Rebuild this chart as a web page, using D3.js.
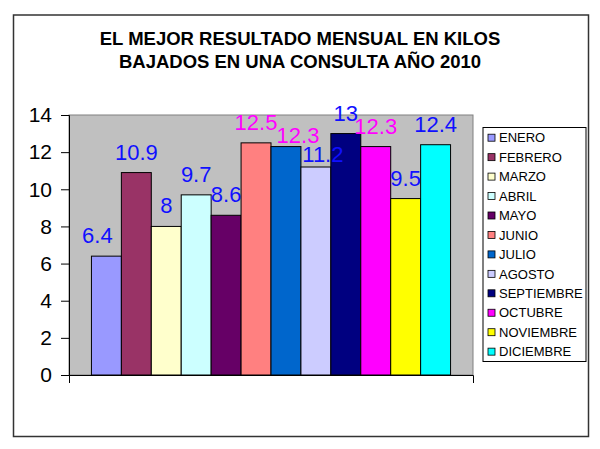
<!DOCTYPE html>
<html>
<head>
<meta charset="utf-8">
<script src="https://cdn.jsdelivr.net/npm/d3@7"></script>
<style>
  body { margin: 0; background: #fff; }
  svg text { font-family: Arial, "Liberation Sans", sans-serif; }
</style>
</head>
<body>
<svg id="chart" width="600" height="449"></svg>
<script>
// Monthly best results (kg lost), 2010
const months = ["ENERO", "FEBRERO", "MARZO", "ABRIL", "MAYO", "JUNIO",
    "JULIO", "AGOSTO", "SEPTIEMBRE", "OCTUBRE", "NOVIEMBRE", "DICIEMBRE"];
const kilos = [6.4, 10.9, 8, 9.7, 8.6, 12.5, 12.3, 11.2, 13, 12.3, 9.5, 12.4];
const barColors = ["#9999FF", "#993366", "#FFFFCC", "#CCFFFF", "#660066", "#FF8080",
    "#0066CC", "#CCCCFF", "#000080", "#FF00FF", "#FFFF00", "#00FFFF"];
const labelColors = ["#1010FF", "#1010FF", "#1010FF", "#1010FF", "#1010FF", "#FF00FF",
    "#FF00FF", "#1010FF", "#1010FF", "#FF00FF", "#1010FF", "#1010FF"];
const yTicks = [0, 2, 4, 6, 8, 10, 12, 14];
const titleLines = ["EL MEJOR RESULTADO MENSUAL EN KILOS", "BAJADOS EN UNA CONSULTA AÑO 2010"];

const svg = d3.select("#chart");

// Outer chart border
svg.append("rect")
    .attr("x", 13.5).attr("y", 15)
    .attr("width", 575).attr("height", 421.5)
    .attr("fill", "#fff")
    .attr("stroke", "#333")
    .attr("stroke-width", 1.5);

// Title
svg.selectAll(".title")
    .data(titleLines)
    .enter()
    .append("text")
    .attr("x", 300)
    .attr("y", (d, i) => 45 + i * 23.3)
    .attr("text-anchor", "middle")
    .attr("font-size", "18.5px")
    .attr("font-weight", "bold")
    .text(d => d);

// Plot area
const plot = {left: 69, right: 473, top: 115, bottom: 375};

const y = d3.scaleLinear()
    .domain([0, 14])
    .range([plot.bottom, plot.top]);

const x = d3.scaleBand()
    .domain(months)
    .range([plot.left, plot.right])
    .paddingInner(0)
    .paddingOuter(0.75);

svg.append("rect")
    .attr("x", plot.left).attr("y", plot.top)
    .attr("width", plot.right - plot.left)
    .attr("height", plot.bottom - plot.top)
    .attr("fill", "#C0C0C0")
    .attr("stroke", "#808080")
    .attr("stroke-width", 1);

// Bars
svg.selectAll(".bar")
    .data(kilos)
    .enter()
    .append("rect")
    .attr("x", (d, i) => x(months[i]))
    .attr("y", d => y(d))
    .attr("width", x.bandwidth())
    .attr("height", d => y(0) - y(d))
    .attr("fill", (d, i) => barColors[i])
    .attr("stroke", "#000")
    .attr("stroke-width", 1);

// Y axis
const yAxis = svg.append("g")
    .attr("transform", `translate(${plot.left},0)`)
    .call(d3.axisLeft(y).tickValues(yTicks).tickSize(8).tickPadding(9));
yAxis.select(".domain").attr("stroke", "#000");
yAxis.selectAll(".tick line").attr("stroke", "#000");
yAxis.selectAll("text")
    .attr("font-size", "21px")
    .attr("font-family", "Arial, 'Liberation Sans', sans-serif")
    .attr("fill", "#000");

// X axis (no category labels, only the end ticks)
const xOuter = d3.scaleLinear().domain([0, 1]).range([plot.left, plot.right]);
const xAxis = svg.append("g")
    .attr("transform", `translate(0,${plot.bottom})`)
    .call(d3.axisBottom(xOuter).ticks(0).tickSizeOuter(8));
xAxis.select(".domain").attr("stroke", "#000");

// Data labels (Excel moved a few of them to avoid overlaps)
const nudge = {0: [-9, 0], 6: [12, 9], 7: [7, 8]};
svg.selectAll(".lbl")
    .data(kilos)
    .enter()
    .append("text")
    .attr("x", (d, i) => x(months[i]) + x.bandwidth() / 2 + (nudge[i] || [0, 0])[0])
    .attr("y", (d, i) => y(d) - 13 + (nudge[i] || [0, 0])[1])
    .attr("text-anchor", "middle")
    .attr("font-size", "22px")
    .attr("fill", (d, i) => labelColors[i])
    .text(d => d);

// Legend
const legend = svg.append("g")
    .attr("transform", "translate(483,127.5)");

legend.append("rect")
    .attr("x", 0).attr("y", 0)
    .attr("width", 103).attr("height", 234)
    .attr("fill", "#fff")
    .attr("stroke", "#000")
    .attr("stroke-width", 1);

const rows = legend.selectAll(".row")
    .data(months)
    .enter()
    .append("g")
    .attr("transform", (d, i) => `translate(0,${10.2 + i * 19.45})`);

rows.append("rect")
    .attr("x", 5).attr("y", -3.5)
    .attr("width", 7).attr("height", 7)
    .attr("fill", (d, i) => barColors[i])
    .attr("stroke", "#000")
    .attr("stroke-width", 0.8);

rows.append("text")
    .attr("x", 16)
    .attr("y", 4.7)
    .attr("font-size", "13px")
    .text(d => d);
</script>
</body>
</html>
